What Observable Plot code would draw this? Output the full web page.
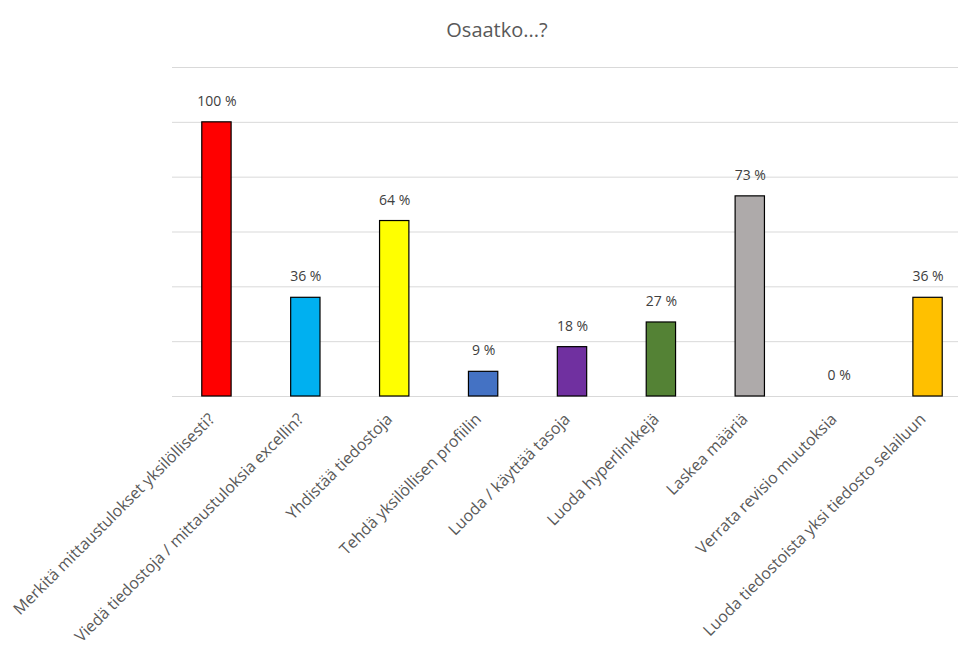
<!DOCTYPE html>
<html>
<head>
<meta charset="utf-8">
<script src="https://cdn.jsdelivr.net/npm/d3@7"></script>
<script src="https://cdn.jsdelivr.net/npm/@observablehq/plot@0.6"></script>
<style>
  html, body { margin: 0; padding: 0; background: #fff; }
  #title { height: 50px; line-height: 60px; text-align: center; font-family: "Open Sans", sans-serif; font-size: 20px; color: #595959; padding-left: 36px; box-sizing: border-box; }
  #chart svg { display: block; }
</style>
</head>
<body>
<div id="title">Osaatko...?</div>
<div id="chart"></div>
<script>
const categories = [
  "Merkitä mittaustulokset yksilöllisesti?",
  "Viedä tiedostoja / mittaustuloksia excellin?",
  "Yhdistää tiedostoja",
  "Tehdä yksilöllisen profiilin",
  "Luoda / käyttää tasoja",
  "Luoda hyperlinkkejä",
  "Laskea määriä",
  "Verrata revisio muutoksia",
  "Luoda tiedostoista yksi tiedosto selailuun"
];
const values = [100, 36, 64, 9, 18, 27, 73, 0, 36];
const colors = ["#FF0000", "#00B0F0", "#FFFF00", "#4472C4", "#7030A0", "#548235", "#AEAAAA", "#FFFFFF", "#FFC000"];
const gridTicks = [0, 20, 40, 60, 80, 100, 120];

const data = categories.map((c, i) => ({category: c, value: values[i], color: colors[i], label: values[i] + " %"}));

const chart = Plot.plot({
  width: 958,
  height: 596,
  marginTop: 17,
  marginBottom: 250,
  marginLeft: 172,
  marginRight: 0,
  style: {fontFamily: "'Open Sans', sans-serif", background: "#fff"},
  x: {domain: categories, range: [172, 972], paddingInner: 0.67, paddingOuter: 0.335, round: false, label: null},
  y: {domain: [0, 120], label: null},
  marks: [
    Plot.ruleY(gridTicks, {stroke: "#d9d9d9", strokeWidth: 1}),
    Plot.barY(data, {x: "category", y: "value", fill: "color", stroke: d => d.value > 0 ? "#000" : "none", strokeWidth: 1.2}),
    Plot.text(data, {x: "category", y: "value", text: "label", dy: -21, fontSize: 14, fill: "#404040"}),
    Plot.axisX({tickSize: 0, tickPadding: 13, tickRotate: -45, fontSize: 16, fill: "#595959", label: null, dx: -5, dy: 7}),
    Plot.axisY({ticks: [], label: null, tickSize: 0})
  ]
});
document.getElementById("chart").appendChild(chart);
</script>
</body>
</html>
